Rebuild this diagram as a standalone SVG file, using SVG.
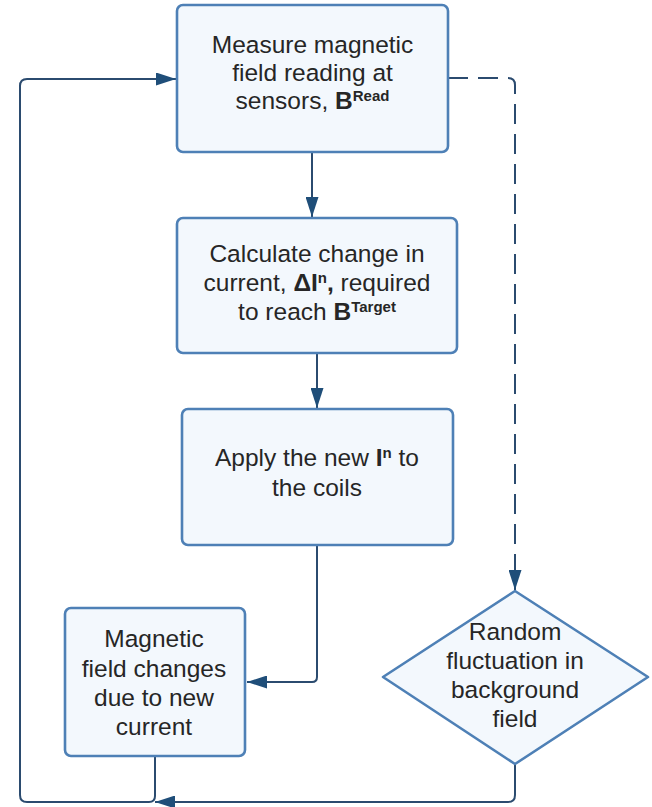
<svg xmlns="http://www.w3.org/2000/svg" width="652" height="807" viewBox="0 0 652 807">
<style>
.node{fill:#f3f8fd;stroke:#4e80b6;stroke-width:2.6}
.t{font-family:"Liberation Sans",Arial,sans-serif;font-size:24.5px;fill:#262626;text-anchor:middle}
.b{font-weight:bold}
.sup{font-weight:bold;font-size:15px}
.edge{fill:none;stroke:#2b4b6f;stroke-width:2}
.dash{stroke-dasharray:20 10}
</style>
<defs>
<marker id="arr" viewBox="0 0 20 13" refX="20" refY="6.5" markerWidth="20" markerHeight="13" markerUnits="userSpaceOnUse" orient="auto">
<path d="M0,0 L20,6.5 L0,13 Z" fill="#1f4e79"/>
</marker>
</defs>
<rect width="652" height="807" fill="#ffffff"/>
<g id="connectors">
<path class="edge" d="M312,152 V217" marker-end="url(#arr)"/>
<path class="edge" d="M317,353 V408" marker-end="url(#arr)"/>
<path class="edge" d="M317,545 V677 Q317,682 312,682 H247" marker-end="url(#arr)"/>
<path class="edge dash" d="M448,78 H508 Q515,78 515,85 V590" marker-end="url(#arr)"/>
<path class="edge" d="M515,764 V795 Q515,802 508,802 H155" marker-end="url(#arr)"/>
<path class="edge" d="M155,756 V796 Q155,802 149,802 H27 Q20,802 20,795 V86 Q20,79 27,79 H176" marker-end="url(#arr)"/>
</g>
<g id="n1">
<rect class="node" x="177" y="5" width="271" height="147" rx="6"/>
<text class="t" x="312.5" y="53">Measure magnetic</text>
<text class="t" x="312.5" y="81">field reading at</text>
<text class="t" x="312.5" y="109">sensors, <tspan class="b">B</tspan><tspan class="sup" dy="-8">Read</tspan></text>
</g>
<g id="n2">
<rect class="node" x="177" y="218" width="280" height="135" rx="6"/>
<text class="t" x="317" y="262">Calculate change in</text>
<text class="t" x="317" y="291">current, <tspan class="b">ΔI</tspan><tspan class="sup" dy="-8">n</tspan><tspan class="b" dy="8">,</tspan> required</text>
<text class="t" x="317" y="320">to reach <tspan class="b">B</tspan><tspan class="sup" dy="-8">Target</tspan></text>
</g>
<g id="n3">
<rect class="node" x="182" y="409" width="271" height="136" rx="6"/>
<text class="t" x="317" y="466">Apply the new <tspan class="b">I</tspan><tspan class="sup" dy="-8">n</tspan><tspan dy="8"> to</tspan></text>
<text class="t" x="317" y="496">the coils</text>
</g>
<g id="n4">
<rect class="node" x="65" y="608" width="180" height="148" rx="6"/>
<text class="t" x="154" y="647">Magnetic</text>
<text class="t" x="154" y="677">field changes</text>
<text class="t" x="154" y="706">due to new</text>
<text class="t" x="154" y="735">current</text>
</g>
<g id="n5">
<path class="node" d="M515,591 L648,677 L515,764 L383,677 Z" stroke-linejoin="round"/>
<text class="t" x="515" y="640">Random</text>
<text class="t" x="515" y="669">fluctuation in</text>
<text class="t" x="515" y="698">background</text>
<text class="t" x="515" y="727">field</text>
</g>
</svg>
